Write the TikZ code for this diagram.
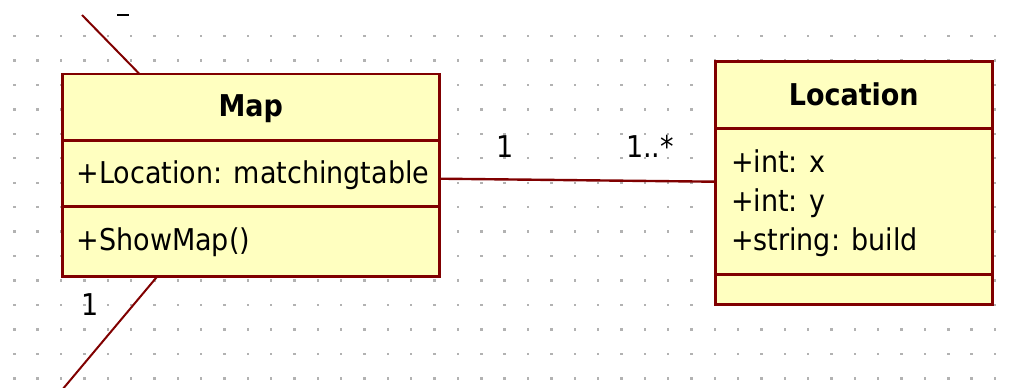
\documentclass[tikz,border=0pt]{standalone}
\usepackage{fontspec}
\setmainfont{DejaVu Sans Condensed}
\usetikzlibrary{positioning}
\definecolor{umlred}{RGB}{128,0,0}
\definecolor{umlfill}{RGB}{255,255,192}
\definecolor{griddot}{RGB}{178,178,178}

\begin{document}
\begin{tikzpicture}[x=1pt,y=-1pt,
            every node/.style = {inner sep = 0pt,
                                outer sep = 0pt,
                                font = \fontsize{30}{36}\selectfont},
            classbox/.style   = {draw = umlred,
                                fill = umlfill,
                                line width = 2.6pt,
                                anchor = north west},
            compline/.style   = {umlred, line width = 2.6pt},
            assoc/.style      = {umlred, line width = 2.4pt},
            member/.style     = {anchor = base west},
            classname/.style  = {anchor = base,
                                font = \fontsize{30}{36}\selectfont\bfseries}
            ]
            \useasboundingbox (0,0) rectangle (1015,388);

            \foreach \i in {0,...,42}
                \foreach \j in {0,...,14}
                    \fill[griddot] (13.1+23.35*\i, 34.8+24.45*\j) rectangle ++(2.4,2.4);

            % Map class
            \node [classbox,
                   minimum width  = 377.3pt,
                   minimum height = 202.2pt] (map) at (62.2,74) {};
            \draw [compline] (map.west |- 0,140.5) -- (map.east |- 0,140.5)
                             (map.west |- 0,206.2) -- (map.east |- 0,206.2);
            \node [classname] (mapname) at (250.8,116.7) {Map};
            \node [member]    (mapattr) at (76.7,183.3)  {+Location: matchingtable};
            \node [member]    (mapop)   at (76.7,250)    {+ShowMap()};

            % Location class
            \node [classbox,
                   minimum width  = 277pt,
                   minimum height = 242.6pt] (loc) at (715.3,61.7) {};
            \draw [compline] (loc.west |- 0,128.7) -- (loc.east |- 0,128.7)
                             (loc.west |- 0,274.7) -- (loc.east |- 0,274.7);
            \node [classname] (locname)  at (853.8,105) {Location};
            \node [member]    (locx)     at (731,172.7) {+int: x};
            \node [member]    (locy)     at (731,211)   {+int: y};
            \node [member]    (locbuild) at (731,250)   {+string: build};

            % associations
            \draw [assoc] (map.east |- 0,178.7) -- (loc.west |- 0,181.7);
            \node [anchor = base]      (multmap) at (505,157) {1};
            \node [anchor = base west] (multloc) at (626,157) {1..*};

            \coordinate (topend) at (82,15);
            \coordinate (botend) at (62,390);
            \draw [assoc, line width = 2pt] (topend) -- (139.5,0 |- map.north);
            \draw [assoc, line width = 2pt] (157.5,0 |- map.south) -- (botend);
            \draw [line width = 2pt] (117,15) -- (129,15);
            \node [anchor = base] (multbot) at (90,315) {1};
\end{tikzpicture}
\end{document}
